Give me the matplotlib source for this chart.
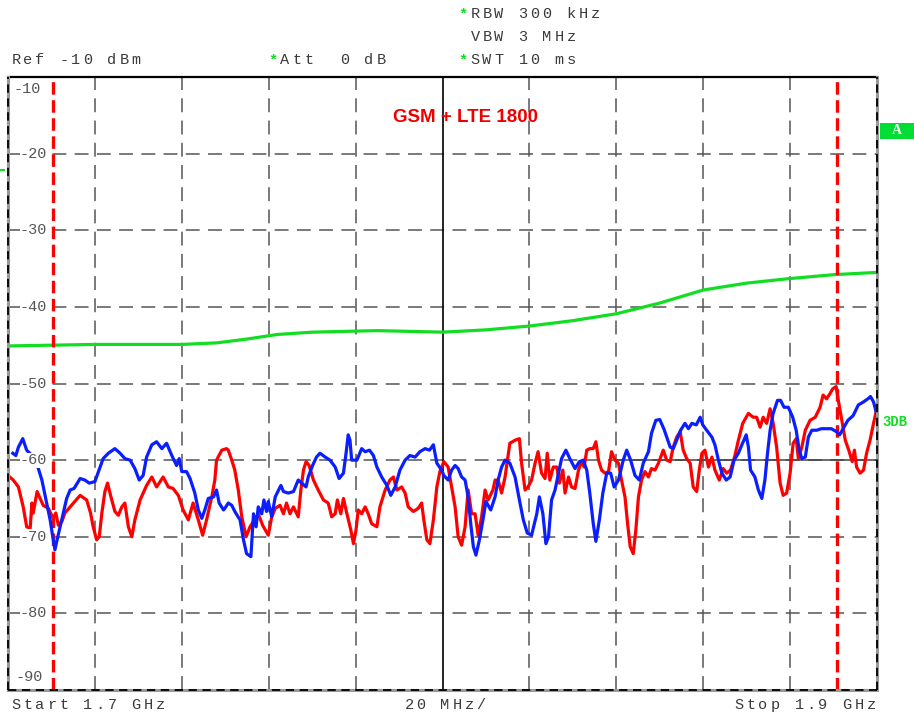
import matplotlib
matplotlib.use("Agg")
import matplotlib.pyplot as plt
from matplotlib.patches import Rectangle
from matplotlib.lines import Line2D

plt.rcParams['lines.scale_dashes'] = False

# spectrum analyser screen (MHz, dBm)
red_trace = [(1700.0, -62.0), (1701.2, -62.6), (1702.4, -63.5), (1703.5, -66.1), (1704.3, -68.7), (1705.1, -68.9),
             (1705.5, -65.6), (1705.8, -66.9), (1706.7, -64.1), (1708.1, -65.9), (1709.3, -66.3), (1710.4, -67.6),
             (1711.0, -66.9), (1711.6, -68.5), (1712.4, -68.0), (1713.1, -66.9), (1714.3, -66.1), (1716.6, -64.6),
             (1718.1, -65.2), (1719.0, -66.9), (1719.6, -68.7), (1720.4, -70.4), (1721.0, -70.0), (1721.6, -66.9),
             (1722.3, -64.1), (1722.9, -63.0), (1723.7, -64.8), (1724.6, -66.7), (1725.4, -67.2), (1726.2, -66.1),
             (1726.9, -65.6), (1727.7, -68.7), (1728.5, -70.0), (1729.2, -67.8), (1730.4, -65.2), (1731.9, -63.3),
             (1733.1, -62.2), (1734.2, -63.5), (1735.7, -62.2), (1736.9, -63.5), (1738.0, -63.7), (1739.2, -64.6),
             (1740.3, -66.5), (1741.5, -67.8), (1742.6, -65.6), (1743.8, -67.8), (1744.8, -69.8), (1745.7, -67.8),
             (1746.9, -64.8), (1747.6, -62.6), (1748.0, -60.0), (1749.2, -58.7), (1750.3, -58.5), (1750.7, -58.7),
             (1751.5, -60.0), (1752.2, -61.3), (1753.0, -63.9), (1753.8, -67.4), (1754.8, -70.0), (1755.7, -68.7),
             (1756.5, -68.0), (1757.6, -67.0), (1758.6, -68.5), (1759.9, -69.8), (1760.7, -67.4), (1761.5, -66.3),
             (1762.6, -65.9), (1763.4, -67.0), (1764.1, -65.6), (1764.9, -67.0), (1765.7, -66.1), (1766.8, -67.4),
             (1767.4, -63.9), (1768.0, -61.3), (1768.6, -60.2), (1769.3, -60.7), (1770.3, -62.6), (1771.4, -63.9),
             (1772.6, -65.2), (1773.7, -65.6), (1774.5, -67.4), (1775.3, -67.0), (1775.8, -65.2), (1776.6, -67.0),
             (1777.2, -65.0), (1778.0, -67.0), (1778.9, -69.1), (1779.5, -70.9), (1780.1, -69.1), (1780.6, -66.5),
             (1781.4, -67.0), (1782.2, -66.1), (1782.9, -67.0), (1783.7, -68.3), (1784.9, -68.7), (1785.6, -66.1),
             (1786.8, -63.9), (1787.9, -62.6), (1788.7, -62.2), (1789.5, -63.9), (1790.6, -63.5), (1791.4, -64.3),
             (1792.1, -66.1), (1793.3, -66.7), (1794.4, -66.3), (1795.2, -65.6), (1795.7, -67.8), (1796.4, -70.4),
             (1797.1, -70.9), (1797.9, -67.8), (1798.7, -63.5), (1799.4, -61.5), (1800.3, -60.2), (1801.3, -60.9),
             (1802.1, -63.5), (1802.9, -66.1), (1803.6, -70.0), (1804.4, -71.1), (1805.2, -68.7), (1805.9, -63.9),
             (1806.7, -67.0), (1807.5, -67.0), (1808.2, -69.8), (1809.0, -67.4), (1809.8, -63.9), (1810.5, -65.2),
             (1811.6, -63.9), (1812.1, -62.6), (1812.8, -62.6), (1813.6, -64.3), (1814.4, -62.2), (1815.5, -57.8),
             (1816.7, -57.4), (1817.7, -57.2), (1818.2, -60.4), (1819.0, -63.9), (1819.7, -63.5), (1820.5, -62.6),
             (1821.3, -60.4), (1822.0, -58.9), (1822.8, -61.7), (1823.6, -62.4), (1824.1, -59.1), (1824.7, -62.6),
             (1825.5, -60.9), (1826.3, -60.9), (1826.9, -63.0), (1827.7, -61.3), (1828.2, -64.3), (1829.0, -62.2),
             (1829.7, -63.5), (1830.5, -63.7), (1831.3, -61.3), (1832.0, -60.2), (1832.6, -60.9), (1833.2, -58.7),
             (1833.9, -58.5), (1834.7, -58.5), (1835.3, -57.6), (1835.9, -60.0), (1836.6, -61.3), (1837.4, -61.7),
             (1838.2, -61.5), (1838.9, -58.9), (1839.7, -60.0), (1840.5, -60.4), (1841.2, -62.6), (1842.0, -64.8),
             (1842.6, -68.3), (1843.2, -71.3), (1843.9, -72.2), (1844.5, -69.1), (1845.1, -64.8), (1845.8, -62.6),
             (1846.6, -61.5), (1847.4, -62.2), (1848.1, -61.1), (1848.9, -61.3), (1849.7, -60.4), (1850.8, -58.7),
             (1851.6, -60.0), (1852.4, -60.2), (1853.1, -58.3), (1853.9, -57.0), (1854.7, -56.3), (1855.4, -58.7),
             (1856.2, -59.8), (1857.0, -60.4), (1857.7, -63.5), (1858.5, -64.1), (1859.1, -61.3), (1859.7, -59.1),
             (1860.4, -58.7), (1861.2, -60.9), (1862.0, -59.6), (1862.7, -61.3), (1863.7, -62.6), (1864.6, -61.1),
             (1865.4, -61.7), (1866.3, -61.3), (1867.3, -59.4), (1868.1, -57.4), (1869.1, -55.2), (1870.4, -53.9),
             (1871.5, -54.4), (1872.3, -54.4), (1873.1, -55.7), (1873.8, -54.4), (1874.6, -55.2), (1875.4, -53.3),
             (1876.1, -55.2), (1876.9, -58.3), (1877.7, -63.0), (1878.4, -64.6), (1879.2, -64.3), (1880.0, -61.7),
             (1880.7, -57.8), (1881.4, -57.2), (1881.9, -59.8), (1882.7, -58.3), (1883.5, -56.1), (1884.6, -54.8),
             (1885.8, -54.4), (1886.9, -53.1), (1887.6, -51.5), (1888.4, -52.0), (1889.2, -51.3), (1889.8, -50.7),
             (1890.6, -50.4), (1891.1, -52.2), (1891.9, -54.8), (1892.7, -57.4), (1893.5, -58.7), (1894.3, -60.2),
             (1894.8, -58.7), (1895.3, -60.9), (1896.1, -61.7), (1896.9, -61.3), (1897.6, -59.1), (1898.4, -57.4),
             (1899.2, -55.2), (1899.8, -53.7)]

blue_trace = [(1701.1, -59.1), (1701.8, -59.4), (1702.4, -58.3), (1703.4, -57.2), (1704.3, -58.7), (1705.5, -59.4),
              (1706.6, -60.4), (1707.8, -62.6), (1708.9, -65.6), (1709.7, -67.8), (1710.3, -70.0), (1710.8, -71.7),
              (1711.3, -70.4), (1712.0, -68.7), (1712.7, -67.0), (1713.5, -65.0), (1714.3, -63.9), (1715.2, -63.7),
              (1716.6, -62.4), (1717.7, -62.6), (1718.7, -63.0), (1720.0, -62.8), (1721.2, -60.9), (1721.9, -59.8),
              (1723.1, -59.1), (1724.6, -58.5), (1725.8, -59.1), (1726.9, -59.8), (1728.1, -60.0), (1729.2, -61.1),
              (1730.2, -62.6), (1731.1, -62.0), (1731.9, -59.6), (1733.1, -58.0), (1734.2, -57.6), (1735.4, -58.5),
              (1736.5, -57.8), (1737.7, -59.4), (1738.8, -60.7), (1739.4, -59.8), (1740.0, -61.5), (1741.1, -61.5),
              (1741.9, -62.4), (1743.0, -64.3), (1743.8, -66.5), (1744.6, -67.6), (1745.3, -66.5), (1746.1, -65.0),
              (1747.3, -64.8), (1748.0, -63.9), (1748.6, -65.6), (1749.6, -66.5), (1749.9, -66.3), (1750.7, -65.6),
              (1751.5, -65.9), (1752.2, -66.7), (1753.4, -67.8), (1754.2, -70.4), (1754.9, -72.2), (1755.9, -72.6),
              (1756.5, -67.0), (1757.1, -68.7), (1757.6, -66.1), (1758.4, -67.0), (1758.9, -65.2), (1759.5, -66.7),
              (1759.9, -65.4), (1760.7, -67.4), (1761.5, -64.8), (1762.8, -63.3), (1763.4, -64.1), (1764.5, -64.3),
              (1765.7, -64.1), (1766.8, -62.6), (1767.6, -63.0), (1768.6, -63.5), (1769.1, -62.2), (1770.1, -60.7),
              (1771.0, -59.6), (1771.8, -59.1), (1773.0, -59.6), (1774.1, -60.0), (1775.3, -60.9), (1776.2, -62.4),
              (1777.2, -61.7), (1777.8, -59.1), (1778.3, -56.7), (1778.7, -57.4), (1779.1, -60.0), (1780.3, -60.0),
              (1781.4, -58.5), (1782.2, -58.9), (1783.2, -58.7), (1784.1, -59.4), (1784.9, -60.9), (1786.0, -62.2),
              (1787.2, -63.3), (1788.1, -64.6), (1789.1, -63.5), (1790.2, -61.3), (1791.4, -60.0), (1792.5, -59.4),
              (1793.7, -59.6), (1794.8, -58.9), (1796.0, -58.5), (1797.0, -58.7), (1797.9, -58.0), (1798.7, -60.4),
              (1799.8, -61.3), (1800.3, -62.0), (1801.3, -62.6), (1802.1, -61.3), (1802.9, -60.7), (1803.6, -61.1),
              (1804.4, -62.2), (1805.2, -62.6), (1805.9, -64.8), (1806.5, -68.3), (1807.1, -71.3), (1807.7, -72.4),
              (1808.5, -70.4), (1809.3, -67.8), (1810.0, -65.4), (1811.1, -66.5), (1812.1, -64.8), (1812.8, -62.6),
              (1813.6, -60.9), (1814.4, -60.0), (1815.5, -60.4), (1816.7, -62.2), (1817.7, -65.2), (1818.6, -67.8),
              (1819.5, -69.5), (1820.5, -69.8), (1821.7, -67.0), (1822.3, -64.8), (1823.1, -67.0), (1823.8, -70.9),
              (1824.4, -70.0), (1825.1, -65.2), (1825.9, -63.9), (1826.7, -61.7), (1827.4, -59.8), (1828.4, -58.7),
              (1829.3, -59.8), (1830.5, -61.1), (1831.5, -60.2), (1832.4, -60.0), (1833.2, -61.3), (1833.9, -64.3),
              (1834.7, -68.3), (1835.3, -70.6), (1836.1, -67.8), (1836.9, -64.3), (1837.8, -61.7), (1838.7, -61.7),
              (1839.5, -63.5), (1840.5, -62.6), (1841.6, -60.0), (1842.4, -58.7), (1843.3, -60.0), (1844.3, -62.0),
              (1845.3, -62.6), (1846.2, -60.4), (1847.4, -58.9), (1848.1, -56.5), (1849.1, -54.8), (1850.0, -54.7),
              (1851.0, -56.0), (1851.6, -57.0), (1852.4, -58.3), (1853.1, -58.5), (1853.9, -57.4), (1854.8, -56.1),
              (1855.8, -55.2), (1856.6, -55.9), (1857.4, -55.2), (1858.4, -55.4), (1859.3, -54.4), (1859.9, -55.4),
              (1860.8, -56.1), (1862.0, -57.0), (1862.7, -58.0), (1863.5, -60.0), (1864.3, -61.7), (1865.3, -62.6),
              (1866.2, -62.2), (1867.1, -60.0), (1868.1, -59.1), (1868.9, -58.0), (1869.9, -56.7), (1870.4, -58.3),
              (1870.9, -61.3), (1871.9, -62.2), (1872.7, -63.9), (1873.5, -65.0), (1874.2, -62.6), (1874.8, -59.1),
              (1875.4, -56.1), (1876.1, -53.9), (1877.1, -52.2), (1877.8, -52.2), (1878.6, -53.1), (1879.6, -53.1),
              (1880.6, -54.4), (1881.4, -56.1), (1882.1, -58.7), (1882.7, -59.8), (1883.5, -59.6), (1884.2, -57.0),
              (1885.0, -56.1), (1886.1, -56.1), (1887.2, -55.9), (1888.4, -55.9), (1889.5, -55.9), (1890.7, -56.3),
              (1891.4, -56.7), (1892.2, -55.9), (1893.3, -54.8), (1894.5, -54.2), (1895.7, -52.8), (1896.9, -52.4),
              (1897.9, -52.0), (1898.5, -51.7), (1899.2, -52.4), (1899.8, -53.7), (1900.0, -54.0)]

limit_mhz = [1700, 1720, 1740, 1748, 1755, 1762, 1770, 1785, 1800, 1810, 1820, 1830, 1840, 1850, 1860, 1870, 1880, 1890, 1900]
limit_dbm = [-45.1, -44.9, -44.9, -44.7, -44.2, -43.6, -43.3, -43.1, -43.3, -43.0, -42.5, -41.8, -40.9, -39.5, -37.8, -36.9, -36.3, -35.8, -35.5]

band_edges = [1710.4, 1890.7]
ref_levels = [-10, -20, -30, -40, -50, -60, -70, -80, -90]
freq_grid = [1700, 1720, 1740, 1760, 1780, 1800, 1820, 1840, 1860, 1880, 1900]

W, H = 914, 714
MONO = 'Liberation Mono'
GREEN = '#11dd22'
TXT = '#3a3a3a'

fig = plt.figure(figsize=(W / 100, H / 100), dpi=100)
ax = fig.add_axes([8 / W, 1 - 690 / H, 869 / W, 613 / H])
ax.set_xlim(1700, 1900)
ax.set_ylim(-90, -10)
ax.set_xticks([])
ax.set_yticks([])
for s in ax.spines.values():
    s.set_visible(False)

# graticule
grid_kw = dict(color='#555555', lw=1.1, dashes=(10, 6), zorder=1)
for lv in ref_levels[1:-1]:
    ax.axhline(lv, **grid_kw)
for f in freq_grid[1:-1]:
    if f == 1800:
        ax.axvline(f, color='black', lw=1.2, zorder=1)
    else:
        ax.axvline(f, **grid_kw)
ax.hlines(-60, 1840, 1900, color='#444444', lw=1.1, zorder=1)

# frame
ax.axhline(-10, color='black', lw=1.6, zorder=6, clip_on=False)
for x in [1700, 1900]:
    ax.axvline(x, color='#999999', lw=2.2, zorder=6, clip_on=False)
    ax.axvline(x, color='black', lw=1.3, dashes=(6, 4), zorder=7, clip_on=False)
ax.axhline(-90, color='#999999', lw=2.2, zorder=6, clip_on=False)
ax.axhline(-90, color='black', lw=1.3, dashes=(6, 4), zorder=7, clip_on=False)

# traces
ax.plot(limit_mhz, limit_dbm, color=GREEN, lw=2.3, zorder=2)
ax.plot([p[0] for p in red_trace], [p[1] for p in red_trace], color='#ff0000', lw=2.3, zorder=3)
for f in band_edges:
    ax.axvline(f, color='#ff0000', lw=2.4, dashes=(9, 4), zorder=4)
ax.plot([p[0] for p in blue_trace], [p[1] for p in blue_trace], color='#0a1eff', lw=2.3, zorder=5)

# level labels
for lv in ref_levels:
    if lv == -10:
        off, va = (6, -5), 'top'
    elif lv == -90:
        off, va = (8, 6), 'bottom'
    else:
        off, va = (12, 0), 'center'
    ax.annotate(str(lv), xy=(0, lv), xycoords=('axes fraction', 'data'), xytext=off,
                textcoords='offset pixels', ha='left', va=va, family=MONO, fontsize=11,
                color='#555555', zorder=8,
                bbox=dict(facecolor='white', edgecolor='none', pad=0.3))


def mono(x, y, s, color=TXT, pitch=12, size=11):
    # analyser font is widely spaced, so place char by char
    for i, ch in enumerate(s):
        if ch == ' ':
            continue
        c = GREEN if ch == '*' else color
        fig.text((x + i * pitch + pitch / 2) / W, 1 - y / H, ch, ha='center', va='center',
                 family=MONO, fontsize=size, color=c, fontweight='bold' if ch == '*' else 'normal')


mono(457, 14, '*RBW 300 kHz')
mono(469, 37, 'VBW 3 MHz')
mono(457, 60, '*SWT 10 ms')
mono(10, 60, 'Ref -10 dBm')
mono(267, 60, '*Att  0 dB')
mono(10, 705, 'Start 1.7 GHz')
mono(403, 705, '20 MHz/')
mono(733, 705, 'Stop 1.9 GHz')

fig.text(466 / W, 1 - 118 / H, 'GSM + LTE 1800', ha='center', va='center', color='#ee0000',
         fontweight='bold', family='Liberation Sans', fontsize=13.5)

fig.add_artist(Rectangle((880 / W, 1 - 139 / H), 34 / W, 16 / H, transform=fig.transFigure,
                         facecolor='#00dd33', edgecolor='none'))
fig.text(897 / W, 1 - 131 / H, 'A', ha='center', va='center', color='white',
         fontweight='bold', family='Liberation Serif', fontsize=10)
fig.text(882 / W, 1 - 422 / H, '3DB', ha='left', va='center', color=GREEN,
         fontweight='bold', family=MONO, fontsize=10)
fig.add_artist(Line2D([0, 4 / W], [1 - 170 / H, 1 - 170 / H], transform=fig.transFigure,
                      color=GREEN, lw=1.5))

fig.savefig('out.png', dpi=100)
